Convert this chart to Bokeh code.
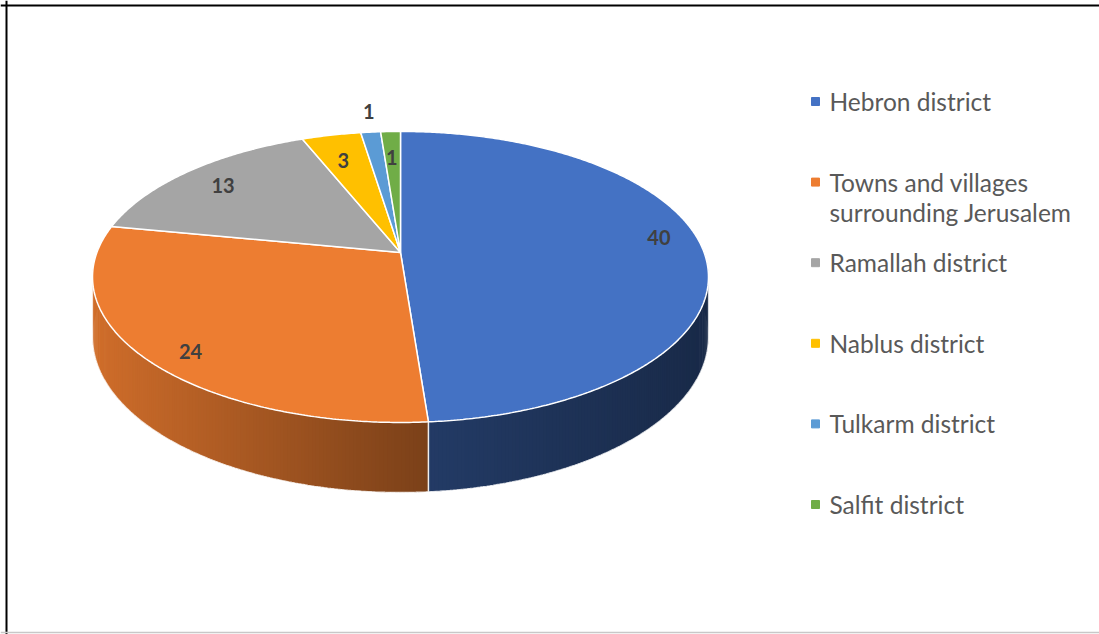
import numpy as np
from bokeh.plotting import figure
from bokeh.models import Range1d, Span
from bokeh.core.properties import value
from bokeh.embed import file_html
from bokeh.resources import INLINE

# ---- data ----
categories = ["Hebron district", "Towns and villages\nsurrounding Jerusalem",
              "Ramallah district", "Nablus district", "Tulkarm district", "Salfit district"]
counts = [40, 24, 13, 3, 1, 1]
colors = ["#4472C4", "#ED7D31", "#A5A5A5", "#FFC000", "#5B9BD5", "#70AD47"]
label_outside = [False, False, False, False, True, False]

# ---- style ----
W, H = 1099, 634
CX, CY = 400.0, 252.0      # projected pie centre (screen px)
A, B, K, D = 141.4, 303.6, 0.168, 58.2
label_dx = [2, 3, 5, 3, 2, 0]
label_dy = [-10, 11, 3, 10, -5, 10]


def proj(theta_deg, r=1.0, h=0.0):
    t = np.radians(theta_deg)
    u = r * np.sin(t)
    v = r * np.cos(t)
    w = 1 + K * v
    return CX + B * u / w, CY - A * v / w + D * h / w


def hex2rgb(c):
    c = c.lstrip("#")
    return tuple(int(c[i:i + 2], 16) for i in (0, 2, 4))


def shade(c, f):
    r, g, b = hex2rgb(c)
    return "#%02x%02x%02x" % (int(r * f), int(g * f), int(b * f))


p = figure(width=W, height=H, output_backend="svg", toolbar_location=None,
           x_range=Range1d(0, W), y_range=Range1d(H, 0),
           x_axis_location=None, y_axis_location=None, min_border=0)
p.grid.visible = False
p.outline_line_color = None
p.background_fill_color = "white"

# chart frame
p.add_layout(Span(location=6, dimension="height", line_color="black", line_width=2))
p.add_layout(Span(location=5, dimension="width", line_color="black", line_width=2))
p.add_layout(Span(location=632, dimension="width", line_color="#c8c8c8", line_width=1.5))

total = float(sum(counts))
bounds = np.concatenate([[0.0], np.cumsum(counts) / total * 360.0])

# ---- side walls (gradient strips, overlapping to hide seams) ----
strips = []
step = 0.6
for i, c in enumerate(colors):
    s, e = bounds[i], bounds[i + 1]
    t = s
    while t < e - 1e-9:
        t2 = min(t + step, e)
        t2o = min(t2 + step * 0.8, e)
        tm = 0.5 * (t + t2)
        vm = np.cos(np.radians(tm))
        if vm < 0.05:
            x1, y1 = proj(t, 1, 0)
            x2, y2 = proj(t2o, 1, 0)
            x3, y3 = proj(t2o, 1, 1)
            x4, y4 = proj(t, 1, 1)
            xm = proj(tm, 1, 0)[0]
            f = float(np.interp(xm, [92, 427, 708], [0.88, 0.52, 0.37]))
            col = shade(c, f)
            strips.append((vm, [x1, x2, x3, x4], [y1, y2, y3, y4], col))
        t = t2
strips.sort(key=lambda s_: -s_[0])
p.patches(xs=[s_[1] for s_ in strips], ys=[s_[2] for s_ in strips],
          fill_color=[s_[3] for s_ in strips], line_color=None)

# wall outline (white)
sil = np.degrees(np.arccos(-K))
arc_t = np.linspace(sil, 360 - sil, 300)
bx, by = proj(arc_t, 1, 1)
tx0, ty0 = proj(sil, 1, 0)
tx1, ty1 = proj(360 - sil, 1, 0)
p.line(x=[tx0] + list(bx) + [tx1], y=[ty0] + list(by) + [ty1],
       line_color="white", line_width=1.2, line_alpha=0.8)
for bnd in bounds[1:-1]:
    if np.cos(np.radians(bnd)) < -K:
        xa, ya = proj(bnd, 1, 0)
        xb, yb = proj(bnd, 1, 1)
        p.line(x=[xa, xb], y=[ya, yb], line_color="white", line_width=1.5, line_alpha=0.9)

# ---- top faces ----
fx, fy = [], []
for i in range(len(counts)):
    s, e = bounds[i], bounds[i + 1]
    n = max(4, int((e - s) / 0.5))
    ts = np.linspace(s, e, n)
    ax, ay = proj(ts, 1, 0)
    cx0, cy0 = proj(0, 0, 0)
    fx.append([cx0] + list(ax))
    fy.append([cy0] + list(ay))
p.patches(xs=fx, ys=fy, fill_color=colors, line_color="white", line_width=1.5)

# ---- data labels ----
lx, ly, lt = [], [], []
for i, v in enumerate(counts):
    mid = 0.5 * (bounds[i] + bounds[i + 1])
    r = 1.15 if label_outside[i] else 0.85
    x, y = proj(mid, r, 0)
    lx.append(x + label_dx[i])
    ly.append(y + label_dy[i])
    lt.append(str(v))
p.text(x=lx, y=ly, text=lt, text_font=value("Lato"), text_font_style="bold",
       text_font_size="20px", text_color="#404040", text_align="center",
       text_baseline="middle")

# ---- legend ----
row0, row_gap, line_gap = 101, 80.6, 30
sq_x, txt_x = 815, 829
rows = [row0 + i * row_gap for i in range(len(categories))]
p.scatter(x=[sq_x] * len(rows), y=rows, marker="square", size=8,
          fill_color=colors, line_color=colors)
gx, gy, gt = [], [], []
for i, cat in enumerate(categories):
    for j, line in enumerate(cat.split("\n")):
        gx.append(txt_x)
        gy.append(rows[i] + j * line_gap)
        gt.append(line)
p.text(x=gx, y=gy, text=gt, text_font=value("Lato"), text_font_size="24.5px",
       text_color="#595959", text_align="left", text_baseline="middle")

open("out.html", "w").write(file_html(p, INLINE))
